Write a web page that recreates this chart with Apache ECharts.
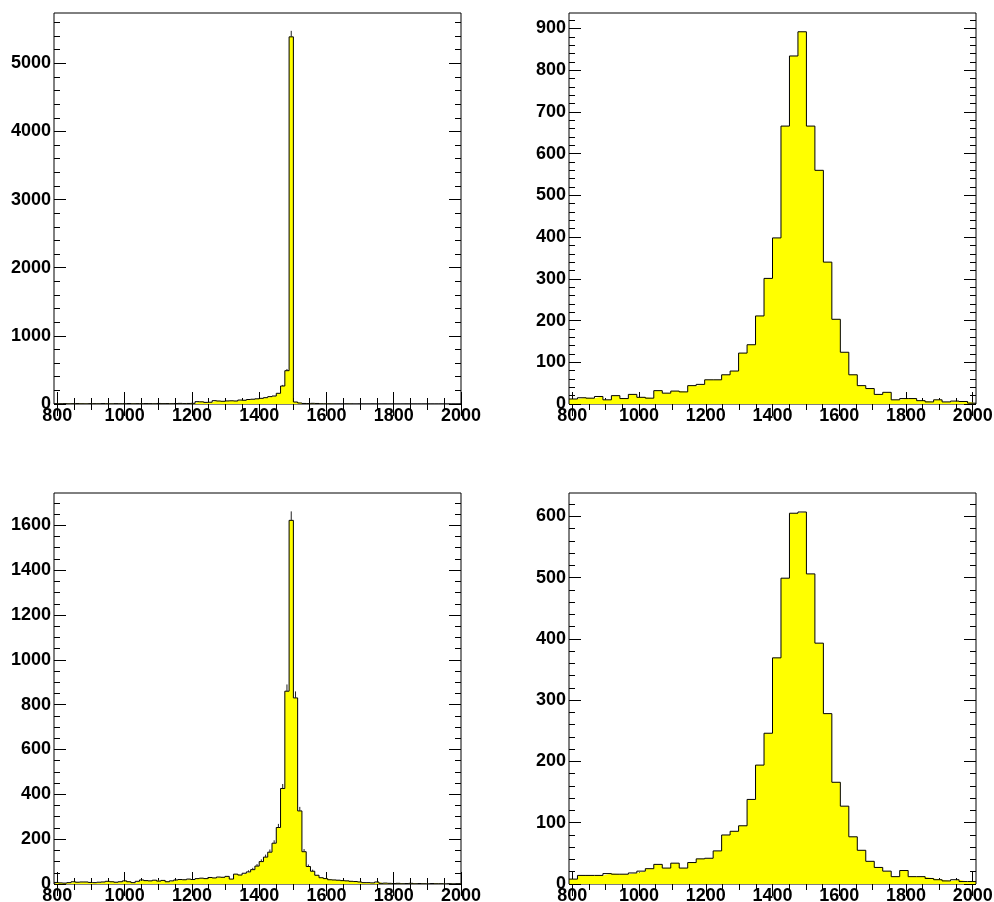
<!DOCTYPE html>
<html><head><meta charset="utf-8">
<script src="https://cdn.jsdelivr.net/npm/echarts@6/dist/echarts.min.js"></script>
<style>html,body{margin:0;padding:0;background:#fff}#c{width:994px;height:902px}</style>
</head><body><div id="c"></div>
<script>
// ---- data ----
const xTickLabels = [800, 1000, 1200, 1400, 1600, 1800, 2000];
const y1Ticks = [0, 1000, 2000, 3000, 4000, 5000];
const y2Ticks = [0, 100, 200, 300, 400, 500, 600, 700, 800, 900];
const y3Ticks = [0, 200, 400, 600, 800, 1000, 1200, 1400, 1600];
const y4Ticks = [0, 100, 200, 300, 400, 500, 600];

// fine binning (96 bins of 1220/96 starting at 790)
const fineLow = 790, fineWidth = 1220 / 96;
// coarse binning (48 bins of 1220/48 starting at 790)
const coarseLow = 790, coarseWidth = 1220 / 48;

const p1Values = [
  4,3,5,2,4,6,3,2,5,4, 3,6,4,2,5,3,4,7,3,5, 4,6,5,3,8,5,6,4,7,9, 6,8,10,
  34,32,24,26,49,44,40,45,47,44, 58,55,66,70,76,83,93,108,117,157, 264,489,
  5387,
  29,14,8,6,10,8,3,2,2,1, 1,0,2,1,0,1,0,0,1,0, 0,1,0,0,0,0,1,0,0,0, 0,0,0,0,0,0,0,0,0,0
];
const p1ErrBins = [53, 54, 55];
const p1Err = [16, 25, 88];

const p2Values = [
  12,15,14,18,10,20,13,23,16,14, 32,26,31,29,44,47,58,58,70,79,
  122,142,211,301,398,666,834,892,666,560, 340,203,124,70,44,37,23,28,10,13,
  13,8,5,10,5,7,6,2
];

const p3Values = [
  7,5,4,6,10,8,9,9,7,6, 8,9,12,10,8,10,14,10,6,12, 18,15,14,17,13,16,10,14,18,20,
  19,22,20,24,26,24,29,27,31,30, 34,22,44,40,48,54,64,
  80,100,120,142,182,252,426,860,1622,830, 326,144,78,57,39,28,24,19,18,
  17,15,14,12,11,9,6,6,5,9, 3,4,3,2,3,1,2,3,1,2, 1,0,2,1,1,0,1,0,1,0
];
const p3ErrBins = [45,46,47,48,49,50,51,52,53,54,55,56,57,58,59,60];
const p3Err = [7,8,9,10,11,12,13,16,20,30,40,29,18,12,9,7];

const p4Values = [
  8,14,14,14,17,16,16,18,21,25, 32,26,34,26,35,41,42,54,80,86,
  95,138,194,246,369,499,605,607,506,393, 278,166,127,77,55,37,27,21,12,22,
  12,12,9,7,5,7,4,4
];

// ---- chart ----
const font = {fontFamily: 'Liberation Sans, Arial, Helvetica, sans-serif', fontWeight: 'bold', fontSize: 18, color: '#000'};
function steps(a, b, s) { const r = []; for (let v = a; v <= b + 1e-9; v += s) r.push(v); return r; }

// area under the step curve
function histPoints(lo, w, vals) {
  const pts = [[lo, 0]];
  vals.forEach((v, k) => pts.push([lo + k * w, v]));
  pts.push([lo + vals.length * w, vals[vals.length - 1]]);
  pts.push([lo + vals.length * w, 0]);
  return pts;
}
// outline segments per bin: [left edge, right edge, value, previous value]
function outlineItems(lo, w, vals) {
  const items = vals.map((v, k) => [lo + k * w, lo + (k + 1) * w, v, k === 0 ? 0 : vals[k - 1]]);
  const xe = lo + vals.length * w;
  items.push([xe, xe, 0, vals[vals.length - 1]]);
  return items;
}
function errPoints(lo, w, vals, bins, errs) {
  return bins.map((k, i) => [lo + (k + 0.5) * w, vals[k], errs[i]]);
}

const panels = [
  {grid: {left: 54, top: 13, width: 407, height: 391}, xmin: 790, xmax: 2000, ymax: 5737, yTicks: y1Ticks, yMinor: steps(0, 5700, 200),
   lo: fineLow, w: fineWidth, vals: p1Values, errBins: p1ErrBins, errs: p1Err},
  {grid: {left: 569, top: 13, width: 407, height: 391}, xmin: 790, xmax: 2010, ymax: 937, yTicks: y2Ticks, yMinor: steps(0, 936, 20),
   lo: coarseLow, w: coarseWidth, vals: p2Values},
  {grid: {left: 54, top: 493, width: 407, height: 391}, xmin: 790, xmax: 2000, ymax: 1744, yTicks: y3Ticks, yMinor: steps(0, 1740, 50),
   lo: fineLow, w: fineWidth, vals: p3Values, errBins: p3ErrBins, errs: p3Err},
  {grid: {left: 569, top: 493, width: 407, height: 391}, xmin: 790, xmax: 2010, ymax: 638, yTicks: y4Ticks, yMinor: steps(0, 636, 20),
   lo: coarseLow, w: coarseWidth, vals: p4Values}
];
const xMinor = steps(800, 2000, 50);

const grids = [], xAxes = [], yAxes = [], series = [];
const tickLine = {color: '#000', width: 1};
panels.forEach((p, g) => {
  grids.push(Object.assign({show: true, borderColor: '#000', borderWidth: 1, backgroundColor: 'transparent', containLabel: false, outerBoundsMode: 'none'}, p.grid));
  const xb = {type: 'value', gridIndex: g, min: p.xmin, max: p.xmax, axisLine: {show: false}, splitLine: {show: false}};
  xAxes.push(Object.assign({}, xb, {position: 'bottom', axisTick: {show: true, inside: true, length: 12, customValues: xTickLabels, lineStyle: tickLine},
    axisLabel: Object.assign({show: true, customValues: xTickLabels, margin: 3, formatter: v => String(v)}, font)}));
  xAxes.push(Object.assign({}, xb, {position: 'bottom', axisTick: {show: true, inside: true, length: 6, customValues: xMinor, lineStyle: tickLine}, axisLabel: {show: false}}));
  xAxes.push(Object.assign({}, xb, {position: 'top', axisTick: {show: true, inside: true, length: 12, customValues: xTickLabels, lineStyle: tickLine}, axisLabel: {show: false}}));
  xAxes.push(Object.assign({}, xb, {position: 'top', axisTick: {show: true, inside: true, length: 6, customValues: xMinor, lineStyle: tickLine}, axisLabel: {show: false}}));
  const yb = {type: 'value', gridIndex: g, min: 0, max: p.ymax, axisLine: {show: false}, splitLine: {show: false}};
  yAxes.push(Object.assign({}, yb, {position: 'left', axisTick: {show: true, inside: true, length: 12, customValues: p.yTicks, lineStyle: tickLine},
    axisLabel: Object.assign({show: true, customValues: p.yTicks, margin: 3, formatter: v => String(v)}, font)}));
  yAxes.push(Object.assign({}, yb, {position: 'left', axisTick: {show: true, inside: true, length: 6, customValues: p.yMinor, lineStyle: tickLine}, axisLabel: {show: false}}));
  yAxes.push(Object.assign({}, yb, {position: 'right', axisTick: {show: true, inside: true, length: 12, customValues: p.yTicks, lineStyle: tickLine}, axisLabel: {show: false}}));
  yAxes.push(Object.assign({}, yb, {position: 'right', axisTick: {show: true, inside: true, length: 6, customValues: p.yMinor, lineStyle: tickLine}, axisLabel: {show: false}}));

  // yellow fill
  series.push({
    type: 'line', xAxisIndex: 4 * g, yAxisIndex: 4 * g, step: 'end', symbol: 'none', silent: true, animation: false,
    data: histPoints(p.lo, p.w, p.vals),
    lineStyle: {width: 0, opacity: 0}, areaStyle: {color: '#ffff00', opacity: 1}, z: 2
  });
  // black step outline
  series.push({
    type: 'custom', xAxisIndex: 4 * g, yAxisIndex: 4 * g, silent: true, animation: false, z: 3, clip: true,
    data: outlineItems(p.lo, p.w, p.vals),
    renderItem: (params, api) => {
      const a = api.coord([api.value(0), api.value(3)]);
      const b = api.coord([api.value(0), api.value(2)]);
      const c = api.coord([api.value(1), api.value(2)]);
      return {type: 'polyline', shape: {points: [a, b, c]}, style: {stroke: '#000', lineWidth: 1, fill: null}};
    }
  });
  if (p.errBins) {
    series.push({
      type: 'custom', xAxisIndex: 4 * g, yAxisIndex: 4 * g, silent: true, animation: false, z: 4,
      data: errPoints(p.lo, p.w, p.vals, p.errBins, p.errs),
      renderItem: (params, api) => {
        const a = api.coord([api.value(0), api.value(1)]);
        const b = api.coord([api.value(0), api.value(1) + api.value(2)]);
        return {type: 'line', shape: {x1: a[0], y1: a[1], x2: b[0], y2: b[1]}, style: {stroke: '#222', lineWidth: 1}};
      }
    });
  }
});

const chart = echarts.init(document.getElementById('c'), null, {renderer: 'canvas'});
chart.setOption({animation: false, backgroundColor: '#fff', grid: grids, xAxis: xAxes, yAxis: yAxes, series: series});
</script>
</body></html>
